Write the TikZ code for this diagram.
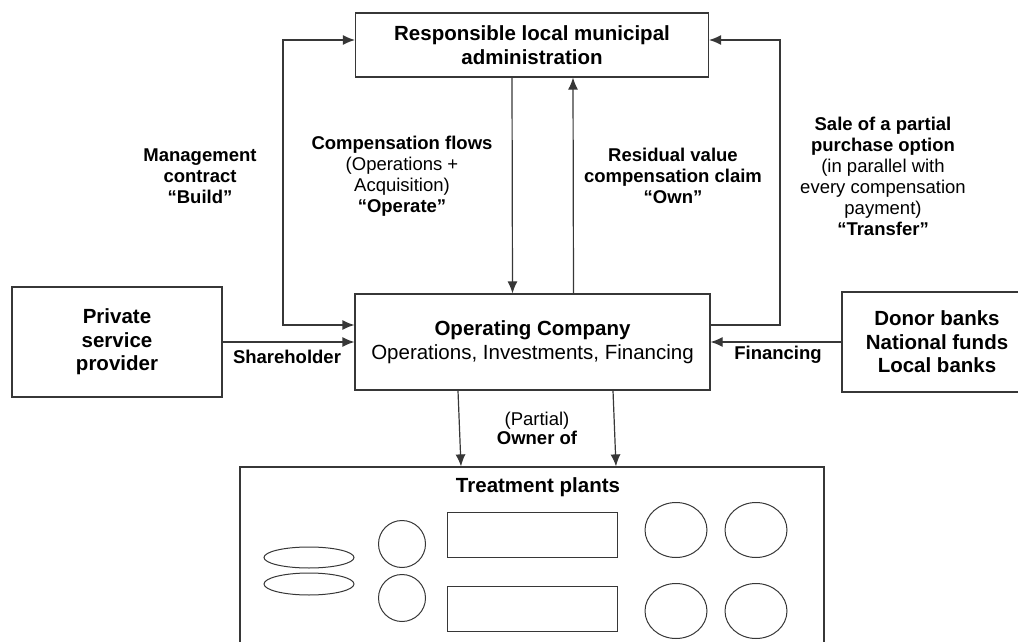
\documentclass[tikz,border=0pt]{standalone}
\usepackage{fontspec}
\setmainfont{Liberation Sans}
\usetikzlibrary{arrows.meta,shapes.geometric,positioning}
\definecolor{lineg}{RGB}{55,55,55}

\newcommand{\boxfont}{\fontsize{20.5}{23.5}\selectfont}
\newcommand{\lblfont}{\fontsize{18.5}{21}\selectfont}

\begin{document}
\begin{tikzpicture}[x=1pt, y=-1pt,
    box/.style={draw=lineg, line width=1.2pt, align=center, font=\boxfont, inner sep=0pt},
    lbl/.style={align=center, font=\lblfont, inner sep=0pt},
    flow/.style={draw=lineg, line width=1.2pt, -{Latex[length=12pt,width=10pt]}},
    part/.style={draw=lineg, line width=1pt, inner sep=0pt}]
\useasboundingbox (0,0) rectangle (1018,642);

% Main boxes
\node[box, minimum width=353pt, minimum height=64pt] (admin) at (532,45)
    {\bfseries Responsible local municipal\\\bfseries administration};
\node[box, minimum width=355pt, minimum height=96pt] (op) at (532.5,342)
    {\textbf{Operating Company}\\Operations, Investments, Financing};
\node[box, minimum width=210pt, minimum height=110pt] (psp) at (117,342)
    {\bfseries Private\\\bfseries service\\\bfseries provider};
\node[box, minimum width=190pt, minimum height=100pt] (donor) at (937,342)
    {\bfseries Donor banks\\\bfseries National funds\\\bfseries Local banks};
\node[box, minimum width=584pt, minimum height=213pt] (plants) at (532,573.5) {};
\node[lbl, font=\boxfont\bfseries] (plantstitle) at (538,487) {Treatment plants};

% Corners of the side loops
\coordinate (lcorner) at (283,325);
\coordinate (rcorner) at (780,325);

% Connectors
\draw[flow, {Latex[length=12pt,width=10pt]}-{Latex[length=12pt,width=10pt]}]
    ([yshift=5pt]admin.west) -| (lcorner) -- (op.west |- lcorner);
\draw[flow] (op.east |- rcorner) -- (rcorner) |- ([yshift=5pt]admin.east);
\draw[flow] ([xshift=-20pt]admin.south) -- ([xshift=-20pt]op.north);
\draw[flow] ([xshift=41pt]op.north) -- ([xshift=41pt]admin.south);
\draw[flow] (psp.east) -- (op.west);
\draw[flow] (donor.west) -- (op.east);
\draw[flow] ([xshift=-74.5pt]op.south) -- ([xshift=-71pt]plants.north);
\draw[flow] ([xshift=80.5pt]op.south) -- ([xshift=84pt]plants.north);

% Labels
\node[lbl] (build) at (200,176) {\bfseries Management\\\bfseries contract\\\bfseries “Build”};
\node[lbl] (operate) at (402,176) {\textbf{Compensation flows}\\(Operations +\\Acquisition)\\\textbf{“Operate”}};
\node[lbl] (own) at (673,176) {\bfseries Residual value\\\bfseries compensation claim\\\bfseries “Own”};
\node[lbl] (transfer) at (883,176) {\textbf{Sale of a partial}\\\textbf{purchase option}\\(in parallel with\\every compensation\\payment)\\\textbf{“Transfer”}};
\node[lbl, font=\lblfont\bfseries] (share) at (287,357) {Shareholder};
\node[lbl, font=\lblfont\bfseries] (fin) at (778,355) {Financing};
\node[lbl, font=\fontsize{18.5}{19}\selectfont] (owner) at (537,428) {(Partial)\\\textbf{Owner of}};

% Plant sketch
\node[part, ellipse, minimum width=90pt, minimum height=21pt] (tank1) at (309,557.5) {};
\node[part, ellipse, minimum width=90pt, minimum height=22pt] (tank2) at (309,584) {};
\node[part, circle, minimum size=47pt] (pump1) at (402,544) {};
\node[part, circle, minimum size=47pt] (pump2) at (402,598) {};
\node[part, minimum width=170pt, minimum height=45pt] (basin1) at (532,534.5) {};
\node[part, minimum width=170pt, minimum height=45pt] (basin2) at (532,608.5) {};
\foreach \cx/\cy/\nm in {676/530/a, 756/530/b, 676/611/c, 756/611/d}
    \node[part, ellipse, minimum width=62pt, minimum height=55pt] (clar\nm) at (\cx,\cy) {};
\end{tikzpicture}
\end{document}
